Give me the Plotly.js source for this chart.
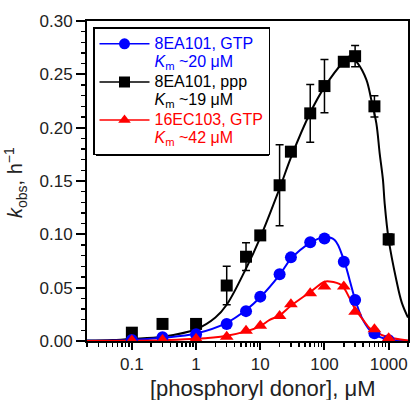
<!DOCTYPE html>
<html>
<head>
<meta charset="utf-8">
<script src="https://cdn.plot.ly/plotly-3.0.1.min.js"></script>
<style>html,body{margin:0;padding:0;background:#fff;}#chart{width:410px;height:400px;}</style>
</head>
<body>
<div id="chart"></div>
<script>
// Concentrations of phosphoryl donor (µM)
var conc = [0.1, 0.3, 1, 3, 6, 10, 20, 30, 60, 100, 200, 300, 600, 1000];

// 8EA101, GTP (blue circles)
var gtp8EA = [0.001, 0.0035, 0.0063, 0.016, 0.028, 0.0416, 0.0625, 0.0784, 0.0925, 0.0962, 0.0744, 0.0384, 0.0072, 0.0008];
var gtp8EAErr = [0, 0, 0, 0, 0, 0.003, 0, 0, 0, 0, 0, 0, 0, 0];

// 8EA101, ppp (black squares)
var ppp8EA = [0.0078, 0.016, 0.016, 0.052, 0.079, 0.099, 0.146, 0.1775, 0.2134, 0.239, 0.2618, 0.267, 0.220, 0.0953];
var ppp8EAErr = [0.004, 0, 0.002, 0.018, 0.013, 0.002, 0.038, 0, 0.027, 0.025, 0.003, 0.010, 0.010, 0.005];

// 16EC103, GTP (red triangles)
var gtp16EC = [0.0005, 0.001, 0.002, 0.004, 0.0097, 0.0144, 0.0234, 0.0344, 0.0447, 0.051, 0.051, 0.0275, 0.011, 0.0025];

// Fitted curves
var fitPppX = [0.02, 0.05, 0.1, 0.3, 1, 2, 3, 6, 10, 20, 30, 60, 100, 200, 250, 332, 449, 537, 643, 724, 815, 866, 1000, 1318, 1600, 2000];
var fitPppY = [0.0004, 0.001, 0.002, 0.004, 0.011, 0.022, 0.034, 0.068, 0.097, 0.143, 0.172, 0.214, 0.238, 0.262, 0.267, 0.260, 0.245, 0.226, 0.204, 0.176, 0.151, 0.129, 0.095, 0.057, 0.036, 0.022];

var fitGtp8X = [0.02, 0.1, 0.3, 1, 3, 6, 10, 20, 30, 60, 100, 144, 200, 247, 300, 398, 569, 1000, 2000];
var fitGtp8Y = [0.0002, 0.001, 0.003, 0.007, 0.017, 0.029, 0.041, 0.062, 0.077, 0.092, 0.0975, 0.0947, 0.076, 0.057, 0.039, 0.0197, 0.0072, 0.0012, 0.0002];

var fitGtp16X = [0.02, 0.1, 0.3, 1, 3, 6, 10, 14, 20, 30, 60, 100, 120, 183, 247, 300, 398, 506, 600, 923, 2000];
var fitGtp16Y = [0.0001, 0.0003, 0.0008, 0.002, 0.005, 0.009, 0.014, 0.0197, 0.024, 0.033, 0.046, 0.0555, 0.0558, 0.0525, 0.040, 0.030, 0.020, 0.0119, 0.009, 0.004, 0.0005];

// Axis ticks
var xTickVals = [0.1, 1, 10, 100, 1000];
var xTickText = ['0.1', '1', '10', '100', '1000'];

// Legend labels
var seriesNames = ['8EA101, GTP', '8EA101, ppp', '16EC103, GTP'];
var kmLabels = ['~20 μM', '~19 μM', '~42 μM'];

var BLUE = '#0000ff', RED = '#ff0000', BLACK = '#000000';

function legendName(i, color) {
  var st = 'color:' + color + ';font-size:16px';
  return '<span style="' + st + '">' + seriesNames[i] + '</span><br>' +
         '<span style="' + st + '"><i>K</i><sub>m</sub> ' + kmLabels[i] + '</span>';
}

// minor tick positions on the log axis: 2..9 within each decade
var xMinor = [];
for (var d = -2; d <= 3; d++) { for (var k = 2; k <= 9; k++) { xMinor.push(k * Math.pow(10, d)); } }

var traces = [
  // fit curves
  {x: fitPppX, y: fitPppY, mode: 'lines', line: {color: BLACK, width: 2, shape: 'spline'}, showlegend: false, hoverinfo: 'skip'},
  {x: fitGtp8X, y: fitGtp8Y, mode: 'lines', line: {color: BLUE, width: 2, shape: 'spline'}, showlegend: false, hoverinfo: 'skip'},
  {x: fitGtp16X, y: fitGtp16Y, mode: 'lines', line: {color: RED, width: 2, shape: 'spline'}, showlegend: false, hoverinfo: 'skip'},
  // data points
  {x: conc, y: ppp8EA, mode: 'markers', marker: {symbol: 'square', size: 12, color: BLACK},
   error_y: {type: 'data', array: ppp8EAErr, visible: true, color: BLACK, thickness: 1.5, width: 4}, showlegend: false},
  {x: conc, y: gtp8EA, mode: 'markers', marker: {symbol: 'circle', size: 12, color: BLUE},
   error_y: {type: 'data', array: gtp8EAErr, visible: true, color: BLUE, thickness: 1.5, width: 4}, showlegend: false},
  {x: conc, y: gtp16EC, mode: 'markers', marker: {symbol: 'triangle-up', size: 12, color: RED}, showlegend: false},
  // legend entries
  {x: [null], y: [null], mode: 'lines+markers', name: legendName(0, BLUE), line: {color: BLUE, width: 1.5}, marker: {symbol: 'circle', size: 11, color: BLUE}},
  {x: [null], y: [null], mode: 'lines+markers', name: legendName(1, BLACK), line: {color: BLACK, width: 1.5}, marker: {symbol: 'square', size: 11, color: BLACK}},
  {x: [null], y: [null], mode: 'lines+markers', name: legendName(2, RED), line: {color: RED, width: 1.5}, marker: {symbol: 'triangle-up', size: 11, color: RED}}
];

var L = 87, R = 2, T = 21, B = 59, W = 410, H = 400;
var pw = W - L - R, ph = H - T - B;
function px2x(p) { return (p - L) / pw; }
function py2y(p) { return (H - B - p) / ph; }

var layout = {
  width: W, height: H,
  margin: {l: L, r: R, t: T, b: B, pad: 0},
  paper_bgcolor: '#ffffff', plot_bgcolor: '#ffffff',
  font: {family: 'Liberation Sans, Arial, sans-serif', color: '#222222'},
  showlegend: true,
  legend: {
    x: px2x(93), y: py2y(27), xanchor: 'left', yanchor: 'top',
    bgcolor: '#ffffff', bordercolor: '#000000', borderwidth: 1.5,
    font: {size: 13.5, family: 'Liberation Sans, Arial, sans-serif'},
    itemwidth: 50, valign: 'top', tracegroupgap: 0
  },
  xaxis: {
    type: 'log', range: [Math.log10(0.02), Math.log10(2000)],
    showgrid: false, zeroline: false,
    showline: true, linecolor: '#000000', linewidth: 2, mirror: true,
    ticks: 'outside', ticklen: 7, tickwidth: 2, tickcolor: '#000000',
    tickmode: 'array', tickvals: xTickVals, ticktext: xTickText,
    tickfont: {size: 17, color: '#222222'},
    minor: {tickmode: 'array', tickvals: xMinor, ticks: 'outside', ticklen: 4, tickwidth: 1.5, tickcolor: '#000000', showgrid: false}
  },
  yaxis: {
    range: [0, 0.3], showgrid: false, zeroline: false,
    showline: true, linecolor: '#000000', linewidth: 2, mirror: true,
    ticks: 'outside', ticklen: 9, tickwidth: 2, tickcolor: '#000000',
    dtick: 0.05, tick0: 0, tickformat: '.2f',
    tickfont: {size: 17, color: '#222222'},
    minor: {ticks: 'outside', ticklen: 4, tickwidth: 1.5, tickcolor: '#000000', dtick: 0.01, showgrid: false}
  },
  shapes: [
    {type: 'rect', xref: 'paper', yref: 'paper', layer: 'above',
     x0: px2x(96), x1: px2x(269), y0: py2y(156), y1: py2y(30),
     fillcolor: '#000000', line: {width: 0}}
  ],
  annotations: [
    {text: '[phosphoryl donor], μM', xref: 'paper', yref: 'paper', x: px2x(262.5), y: py2y(388),
     xanchor: 'center', yanchor: 'middle', showarrow: false, font: {size: 22, color: '#222222'}},
    {text: '<i>k</i><sub>obs</sub>, h<sup>−1</sup>', xref: 'paper', yref: 'paper', x: px2x(15), y: py2y(183),
     xanchor: 'center', yanchor: 'middle', textangle: -90, showarrow: false, font: {size: 20, color: '#222222'}}
  ]
};

Plotly.newPlot('chart', traces, layout, {displayModeBar: false, staticPlot: true});
</script>
</body>
</html>
